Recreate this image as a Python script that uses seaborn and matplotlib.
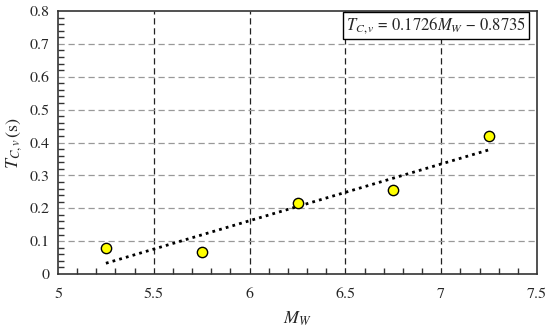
import matplotlib
matplotlib.use("Agg")
import matplotlib.pyplot as plt
import seaborn as sns
import numpy as np
import pandas as pd
from matplotlib.ticker import MultipleLocator

mw = [5.25, 5.75, 6.25, 6.75, 7.25]
tcv = [0.080, 0.066, 0.215, 0.255, 0.420]
slope = 0.1726
intercept = -0.8735
xticks = [5, 5.5, 6, 6.5, 7, 7.5]
xticklabels = ["5", "5.5", "6", "6.5", "7", "7.5"]
yticks = [0, 0.1, 0.2, 0.3, 0.4, 0.5, 0.6, 0.7, 0.8]
yticklabels = ["0", "0.1", "0.2", "0.3", "0.4", "0.5", "0.6", "0.7", "0.8"]

sns.set_theme(style="white")
plt.rcParams['font.family'] = ['TeX Gyre Termes', 'STIXGeneral', 'DejaVu Serif']
plt.rcParams['mathtext.fontset'] = 'stix'

df = pd.DataFrame({"MW": mw, "T": tcv})
fig = plt.figure(figsize=(5.5, 3.31), dpi=100)
ax = fig.add_axes([58/550, 1 - 274/331, (537-58)/550, (274-11)/331])

ax.set_xlim(5, 7.5)
ax.set_ylim(0, 0.8)
ax.xaxis.set_minor_locator(MultipleLocator(0.1))
ax.yaxis.set_minor_locator(MultipleLocator(0.02))

for xv in xticks[1:-1]:
    ax.axvline(xv, color="#222222", lw=0.9, ls=(0, (5, 3)), zorder=1)
for yv in yticks[1:-1]:
    ax.axhline(yv, color="#999999", lw=0.9, ls=(0, (5, 3)), zorder=1)

xl = np.array([mw[0], mw[-1]])
ax.plot(xl, slope * xl + intercept, color="black", lw=2, ls=(0, (1, 1.5)), zorder=2)

sns.scatterplot(data=df, x="MW", y="T", ax=ax, color="#ffff00", edgecolor="black",
                linewidth=1, s=55, zorder=3)

ax.set_xticks(xticks)
ax.set_xticklabels(xticklabels)
ax.set_yticks(yticks)
ax.set_yticklabels(yticklabels)
ax.tick_params(axis="both", which="both", direction="in", labelsize=11.5, color="#333333")
ax.tick_params(axis="x", which="major", length=0, pad=10)
ax.tick_params(axis="x", which="minor", length=4, bottom=True)
ax.tick_params(axis="y", which="major", length=0, pad=6)
ax.tick_params(axis="y", which="minor", length=4, left=True)

for s in ax.spines.values():
    s.set_color("#333333")
    s.set_linewidth(1.2)

ax.set_xlabel(r"$M_W$", fontsize=13, labelpad=6)
ax.set_ylabel(r"$T_{C,v}\,\mathrm{(s)}$", fontsize=13, labelpad=4)

ax.text(0.977, 0.985, r"$T_{C,v}$ = 0.1726$M_W$ − 0.8735", transform=ax.transAxes,
        ha="right", va="top", fontsize=12, zorder=5,
        bbox=dict(boxstyle="square,pad=0.2", fc="white", ec="black", lw=1))

fig.savefig("out.png", dpi=100)
